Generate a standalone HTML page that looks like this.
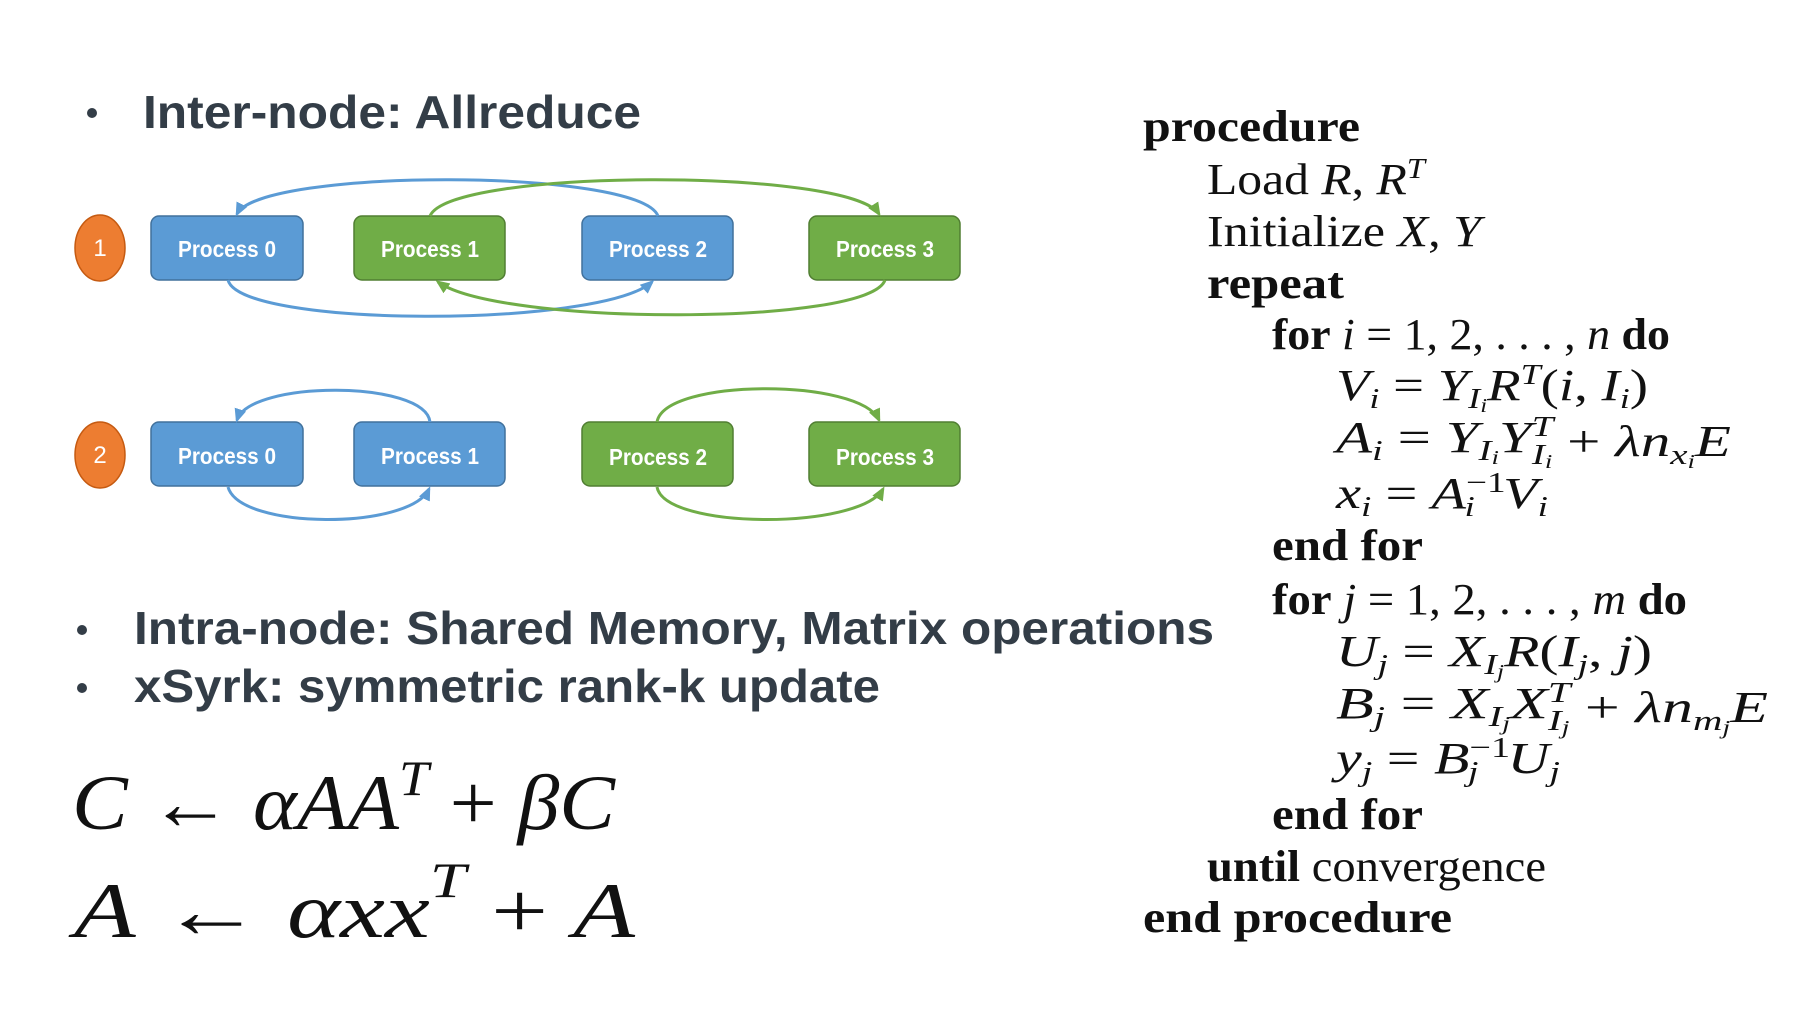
<!DOCTYPE html>
<html><head><meta charset="utf-8"><style>
html,body{margin:0;padding:0;background:#fff;}
svg{display:block;}
.h{font-family:"Liberation Sans",sans-serif;font-weight:bold;fill:#333d47;}
.p{font-family:"Liberation Sans",sans-serif;font-weight:bold;fill:#fff;font-size:23px;}
.a{font-family:"Liberation Serif",serif;font-size:44px;fill:#111;}
.b{font-weight:bold;}
.i{font-style:italic;}
.s{font-size:29px;}
.f{font-family:"Liberation Serif",serif;font-size:78px;fill:#111;}
</style></head><body>
<svg width="1810" height="1014" viewBox="0 0 1810 1014" xmlns="http://www.w3.org/2000/svg">
<defs>
<marker id="mb" markerWidth="14" markerHeight="14" refX="11" refY="7" orient="auto" markerUnits="userSpaceOnUse"><path d="M0,1 L14,7 L0,13 z" fill="#5b9bd5"/></marker>
<marker id="mg" markerWidth="14" markerHeight="14" refX="11" refY="7" orient="auto" markerUnits="userSpaceOnUse"><path d="M0,1 L14,7 L0,13 z" fill="#70ad47"/></marker>
</defs>

<circle cx="92" cy="113" r="5" fill="#333d47"/>
<text class="h" x="143" y="128" font-size="46" textLength="498" lengthAdjust="spacingAndGlyphs">Inter-node: Allreduce</text>
<circle cx="82" cy="630" r="5" fill="#333d47"/>
<text class="h" x="134" y="644" font-size="46" textLength="1080" lengthAdjust="spacingAndGlyphs">Intra-node: Shared Memory, Matrix operations</text>
<circle cx="82" cy="688" r="5" fill="#333d47"/>
<text class="h" x="134" y="702" font-size="46" textLength="746" lengthAdjust="spacingAndGlyphs">xSyrk: symmetric rank-k update</text>

<ellipse cx="100" cy="248" rx="25" ry="33" fill="#ed7d31" stroke="#c55a11" stroke-width="1.5"/>
<text x="100" y="256" text-anchor="middle" font-family="Liberation Sans,sans-serif" font-size="24" fill="#fff">1</text>
<ellipse cx="100" cy="455" rx="25" ry="33" fill="#ed7d31" stroke="#c55a11" stroke-width="1.5"/>
<text x="100" y="463" text-anchor="middle" font-family="Liberation Sans,sans-serif" font-size="24" fill="#fff">2</text>

<g stroke-width="1.5">
<rect x="151" y="216" width="152" height="64" rx="8" fill="#5b9bd5" stroke="#41719c"/>
<rect x="354" y="216" width="151" height="64" rx="8" fill="#70ad47" stroke="#507e32"/>
<rect x="582" y="216" width="151" height="64" rx="8" fill="#5b9bd5" stroke="#41719c"/>
<rect x="809" y="216" width="151" height="64" rx="8" fill="#70ad47" stroke="#507e32"/>
<rect x="151" y="422" width="152" height="64" rx="8" fill="#5b9bd5" stroke="#41719c"/>
<rect x="354" y="422" width="151" height="64" rx="8" fill="#5b9bd5" stroke="#41719c"/>
<rect x="582" y="422" width="151" height="64" rx="8" fill="#70ad47" stroke="#507e32"/>
<rect x="809" y="422" width="151" height="64" rx="8" fill="#70ad47" stroke="#507e32"/>
</g>
<g class="p">
<text x="178" y="257" textLength="98" lengthAdjust="spacingAndGlyphs">Process 0</text>
<text x="381" y="257" textLength="98" lengthAdjust="spacingAndGlyphs">Process 1</text>
<text x="609" y="257" textLength="98" lengthAdjust="spacingAndGlyphs">Process 2</text>
<text x="836" y="257" textLength="98" lengthAdjust="spacingAndGlyphs">Process 3</text>
<text x="178" y="464" textLength="98" lengthAdjust="spacingAndGlyphs">Process 0</text>
<text x="381" y="464" textLength="98" lengthAdjust="spacingAndGlyphs">Process 1</text>
<text x="609" y="465" textLength="98" lengthAdjust="spacingAndGlyphs">Process 2</text>
<text x="836" y="465" textLength="98" lengthAdjust="spacingAndGlyphs">Process 3</text>
</g>

<g fill="none" stroke-width="3">
<path d="M658,216 C640,168 260,168 237,214" stroke="#5b9bd5" marker-end="url(#mb)"/>
<path d="M430,216 C450,168 850,168 879,214" stroke="#70ad47" marker-end="url(#mg)"/>
<path d="M228,280 C240,328 600,328 652,282" stroke="#5b9bd5" marker-end="url(#mb)"/>
<path d="M885,280 C870,326 500,326 438,282" stroke="#70ad47" marker-end="url(#mg)"/>
<path d="M430,422 C425,380 250,380 237,420" stroke="#5b9bd5" marker-end="url(#mb)"/>
<path d="M228,487 C240,530 410,530 429,489" stroke="#5b9bd5" marker-end="url(#mb)"/>
<path d="M657,422 C665,378 860,378 879,420" stroke="#70ad47" marker-end="url(#mg)"/>
<path d="M657,487 C665,530 860,530 883,489" stroke="#70ad47" marker-end="url(#mg)"/>
</g>

<text class="f" x="72" y="829" textLength="543" lengthAdjust="spacingAndGlyphs"><tspan class="i">C</tspan> ← <tspan class="i">αAA</tspan><tspan class="i" font-size="50" dy="-34">T</tspan><tspan dy="34"> + </tspan><tspan class="i">βC</tspan></text>
<text class="f" x="74" y="937" textLength="561" lengthAdjust="spacingAndGlyphs"><tspan class="i">A</tspan> ← <tspan class="i">αxx</tspan><tspan class="i" font-size="50" dy="-40">T</tspan><tspan dy="40"> + </tspan><tspan class="i">A</tspan></text>

<g class="a">
<text x="1143" y="141" class="b" textLength="217" lengthAdjust="spacingAndGlyphs">procedure</text>
<text x="1207" y="194" textLength="218" lengthAdjust="spacingAndGlyphs">Load <tspan class="i">R</tspan>, <tspan class="i">R</tspan><tspan class="i s" dy="-16">T</tspan></text>
<text x="1207" y="246" textLength="274" lengthAdjust="spacingAndGlyphs">Initialize <tspan class="i">X</tspan>, <tspan class="i">Y</tspan></text>
<text x="1207" y="298" class="b" textLength="137" lengthAdjust="spacingAndGlyphs">repeat</text>
<text x="1272" y="349" textLength="398" lengthAdjust="spacingAndGlyphs"><tspan class="b">for</tspan> <tspan class="i">i</tspan> = 1, 2, . . . , <tspan class="i">n</tspan> <tspan class="b">do</tspan></text>
<text x="1336" y="400" textLength="312" lengthAdjust="spacingAndGlyphs"><tspan class="i">V</tspan><tspan class="i s" dy="8">i</tspan><tspan dy="-8"> = </tspan><tspan class="i">Y</tspan><tspan class="i s" dy="8">I</tspan><tspan class="i" font-size="20" dy="4">i</tspan><tspan class="i" dy="-12">R</tspan><tspan class="i s" dy="-16">T</tspan><tspan dy="16">(</tspan><tspan class="i">i</tspan>, <tspan class="i">I</tspan><tspan class="i s" dy="8">i</tspan><tspan dy="-8">)</tspan></text>
<text x="1336" y="452" textLength="395" lengthAdjust="spacingAndGlyphs"><tspan class="i">A</tspan><tspan class="i s" dy="8">i</tspan><tspan dy="-8"> = </tspan><tspan class="i">Y</tspan><tspan class="i s" dy="8">I</tspan><tspan class="i" font-size="20" dy="4">i</tspan><tspan class="i" dy="-12">Y</tspan><tspan class="i s" dy="-16">T</tspan><tspan class="i s" dx="-16" dy="28">I</tspan><tspan class="i" font-size="20" dy="4">i</tspan><tspan dy="-12"> + </tspan><tspan class="i">λn</tspan><tspan class="i s" dy="8">x</tspan><tspan class="i" font-size="20" dy="4">i</tspan><tspan class="i" dy="-12">E</tspan></text>
<text x="1336" y="508" textLength="212" lengthAdjust="spacingAndGlyphs"><tspan class="i">x</tspan><tspan class="i s" dy="8">i</tspan><tspan dy="-8"> = </tspan><tspan class="i">A</tspan><tspan class="s" dy="-16">−1</tspan><tspan class="i s" dx="-32" dy="24">i</tspan><tspan class="i" dx="22" dy="-8">V</tspan><tspan class="i s" dy="8">i</tspan></text>
<text x="1272" y="560" class="b" textLength="151" lengthAdjust="spacingAndGlyphs">end for</text>
<text x="1272" y="614" textLength="415" lengthAdjust="spacingAndGlyphs"><tspan class="b">for</tspan> <tspan class="i">j</tspan> = 1, 2, . . . , <tspan class="i">m</tspan> <tspan class="b">do</tspan></text>
<text x="1336" y="666" textLength="316" lengthAdjust="spacingAndGlyphs"><tspan class="i">U</tspan><tspan class="i s" dy="8">j</tspan><tspan dy="-8"> = </tspan><tspan class="i">X</tspan><tspan class="i s" dy="8">I</tspan><tspan class="i" font-size="20" dy="4">j</tspan><tspan class="i" dy="-12">R</tspan>(<tspan class="i">I</tspan><tspan class="i s" dy="8">j</tspan><tspan dy="-8">, </tspan><tspan class="i">j</tspan>)</text>
<text x="1336" y="718" textLength="432" lengthAdjust="spacingAndGlyphs"><tspan class="i">B</tspan><tspan class="i s" dy="8">j</tspan><tspan dy="-8"> = </tspan><tspan class="i">X</tspan><tspan class="i s" dy="8">I</tspan><tspan class="i" font-size="20" dy="4">j</tspan><tspan class="i" dy="-12">X</tspan><tspan class="i s" dy="-16">T</tspan><tspan class="i s" dx="-16" dy="28">I</tspan><tspan class="i" font-size="20" dy="4">j</tspan><tspan dy="-12"> + </tspan><tspan class="i">λn</tspan><tspan class="i s" dy="8">m</tspan><tspan class="i" font-size="20" dy="4">j</tspan><tspan class="i" dy="-12">E</tspan></text>
<text x="1336" y="773" textLength="224" lengthAdjust="spacingAndGlyphs"><tspan class="i">y</tspan><tspan class="i s" dy="8">j</tspan><tspan dy="-8"> = </tspan><tspan class="i">B</tspan><tspan class="s" dy="-16">−1</tspan><tspan class="i s" dx="-32" dy="24">j</tspan><tspan class="i" dx="22" dy="-8">U</tspan><tspan class="i s" dy="8">j</tspan></text>
<text x="1272" y="829" class="b" textLength="151" lengthAdjust="spacingAndGlyphs">end for</text>
<text x="1207" y="881" textLength="339" lengthAdjust="spacingAndGlyphs"><tspan class="b">until</tspan> convergence</text>
<text x="1143" y="932" class="b" textLength="309" lengthAdjust="spacingAndGlyphs">end procedure</text>
</g>
</svg>
</body></html>
